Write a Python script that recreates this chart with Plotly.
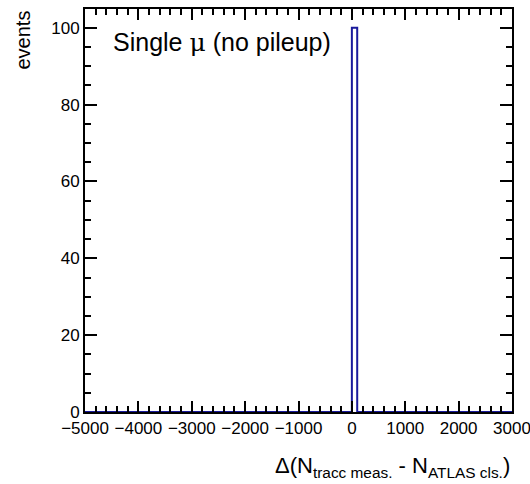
import plotly.graph_objects as go

# Histogram: bin edges and counts (only one filled bin)
bin_edges = [-5000, 0, 100, 3000]
counts = [0, 100, 0]

x_ticks = [-5000, -4000, -3000, -2000, -1000, 0, 1000, 2000, 3000]
y_ticks = [0, 20, 40, 60, 80, 100]

FONT = "Liberation Sans, Arial, Helvetica, sans-serif"
LINE_COLOR = "#1a1a9c"

xs = list(bin_edges)
ys = list(counts) + [counts[-1]]

fig = go.Figure()
fig.add_trace(go.Scatter(
    x=xs, y=ys, mode="lines", line=dict(shape="hv", color=LINE_COLOR, width=2),
    hoverinfo="skip", showlegend=False,
))

axis_common = dict(
    showline=True, linecolor="black", linewidth=2, mirror="ticks",
    ticks="inside", tickcolor="#000000", tickwidth=2, showgrid=False, zeroline=False,
    tickfont=dict(family=FONT, size=17, color="black"),
    automargin=False, ticklabeloverflow="allow",
)

fig.update_layout(
    width=530, height=484,
    margin=dict(l=85, r=18, t=9, b=72),
    paper_bgcolor="white", plot_bgcolor="white",
    font=dict(family=FONT, color="black"),
    xaxis=dict(range=[-5000, 3000.01], tickmode="linear", tick0=x_ticks[0],
               dtick=x_ticks[1] - x_ticks[0], ticklen=11,
               minor=dict(dtick=200, ticklen=6, ticks="inside", tickcolor="#000000", tickwidth=1.5, showgrid=False),
               **axis_common),
    yaxis=dict(range=[0, 104.9], tickmode="linear", tick0=y_ticks[0],
               dtick=y_ticks[1] - y_ticks[0], ticklen=12,
               minor=dict(dtick=5, ticklen=6, ticks="inside", tickcolor="#000000", tickwidth=1.5, showgrid=False),
               **axis_common),
    annotations=[
        dict(text="Single <span style='font-family:DejaVu Serif, serif'>μ</span> (no pileup)",
             xref="paper", yref="paper", x=(111 - 85) / 427, y=1 - (26 - 9) / 403,
             xanchor="left", yanchor="top", showarrow=False,
             font=dict(family=FONT, size=25, color="black")),
        dict(text="events", textangle=-90,
             xref="paper", yref="paper", x=(22 - 85) / 427, y=1,
             xanchor="center", yanchor="top", showarrow=False,
             font=dict(family=FONT, size=20, color="black")),
        dict(text="Δ(N<sub>tracc meas.</sub> - N<sub>ATLAS cls.</sub>)",
             xref="paper", yref="paper", x=1, y=-(451 - 412) / 403,
             xanchor="right", yanchor="top", showarrow=False,
             font=dict(family=FONT, size=22, color="black")),
    ],
)

fig.write_html("out.html")
